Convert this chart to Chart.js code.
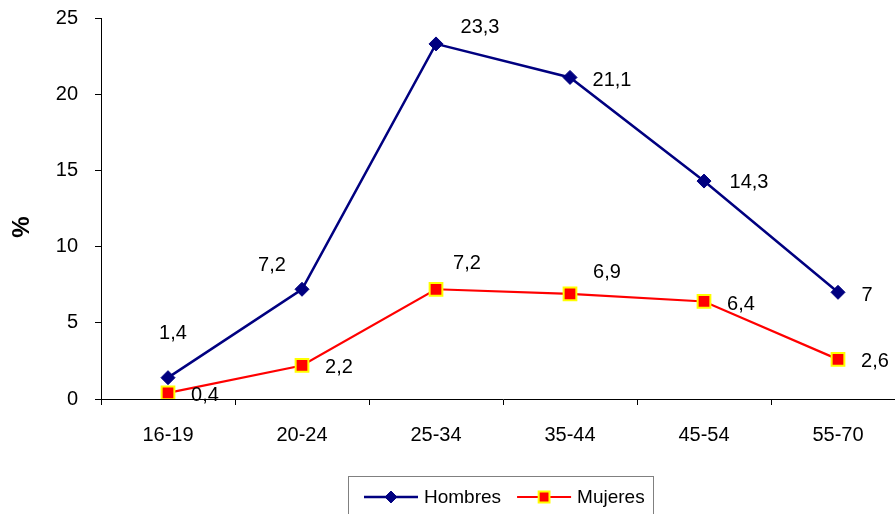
<!DOCTYPE html>
<html lang="es">
<head>
  <meta charset="UTF-8">
  <title>Hombres / Mujeres por edad</title>
  <script src="https://cdn.jsdelivr.net/npm/chart.js"></script>
  <style>
    body {
      margin: 0;
      padding: 0;
      background: white;
      overflow: hidden;
    }
    .chart-container {
      width: 905px;
      height: 514px;
      position: relative;
    }
  </style>
</head>
<body>
  <div class="chart-container"><canvas id="chart"></canvas></div>

  <script>
    const categories = ['16-19', '20-24', '25-34', '35-44', '45-54', '55-70'];
    const hombres = [1.4, 7.2, 23.3, 21.1, 14.3, 7];
    const mujeres = [0.4, 2.2, 7.2, 6.9, 6.4, 2.6];
    const seriesNames = ['Hombres', 'Mujeres'];
    const yTicks = [0, 5, 10, 15, 20, 25];

    // where each value label sits, relative to its point (px)
    const labelOffsets = [
      [[5, -46], [-30, -25], [44, -18], [42, 2], [45, 0], [29, 2]],
      [[37, 1], [37, 1], [31, -27], [37, -23], [37, 2], [37, 1]]
    ];

    const FONT = '"Liberation Sans", Arial, sans-serif';
    const fmt = v => String(v).replace('.', ',');

    const valueLabels = {
      id: 'valueLabels',
      afterDatasetsDraw(chart) {
        const ctx = chart.ctx;
        ctx.save();
        ctx.font = '20px ' + FONT;
        ctx.fillStyle = '#000';
        ctx.textAlign = 'center';
        ctx.textBaseline = 'alphabetic';
        chart.data.datasets.forEach((ds, i) => {
          chart.getDatasetMeta(i).data.forEach((pt, j) => {
            const off = labelOffsets[i][j];
            ctx.fillText(fmt(ds.data[j]), pt.x + off[0], pt.y + off[1] + 7);
          });
        });
        ctx.restore();
      }
    };

    const boxLegend = {
      id: 'boxLegend',
      afterDraw(chart) {
        const ctx = chart.ctx;
        const a = chart.chartArea;
        const cx = (a.left + a.right) / 2;
        const left = cx - 155, top = a.bottom + 77;
        const y = top + 21;
        ctx.save();
        ctx.strokeStyle = '#808080';
        ctx.lineWidth = 1;
        ctx.strokeRect(Math.round(left) + 0.5, top + 0.5, 305, 60);
        ctx.font = '19px ' + FONT;
        ctx.fillStyle = '#000';
        ctx.textBaseline = 'middle';
        let x = left + 16;
        chart.data.datasets.forEach((ds, i) => {
          ctx.strokeStyle = ds.borderColor;
          ctx.lineWidth = ds.borderWidth;
          ctx.beginPath();
          ctx.moveTo(x, y);
          ctx.lineTo(x + 54, y);
          ctx.stroke();
          ctx.fillStyle = ds.pointBackgroundColor;
          ctx.strokeStyle = ds.pointBorderColor;
          ctx.lineWidth = ds.pointBorderWidth;
          Chart.helpers.drawPoint(ctx, {
            pointStyle: ds.pointStyle,
            radius: ds.pointRadius * 0.85,
            borderWidth: ds.pointBorderWidth,
            rotation: 0
          }, x + 27, y);
          ctx.fillStyle = '#000';
          ctx.fillText(ds.label, x + 60, y + 1);
          x += 60 + ctx.measureText(ds.label).width + 16;
        });
        ctx.restore();
      }
    };

    new Chart(document.getElementById('chart'), {
      type: 'line',
      data: {
        labels: categories,
        datasets: [{
          label: seriesNames[0],
          data: hombres,
          borderColor: '#000080',
          borderWidth: 2.5,
          pointStyle: 'rectRot',
          pointRadius: 7,
          pointBackgroundColor: '#000080',
          pointBorderColor: '#000080',
          pointBorderWidth: 1,
          tension: 0
        }, {
          label: seriesNames[1],
          data: mujeres,
          borderColor: '#FF0000',
          borderWidth: 2.2,
          pointStyle: 'rect',
          pointRadius: 9,
          pointBackgroundColor: '#FF0000',
          pointBorderColor: '#FFFF00',
          pointBorderWidth: 2,
          tension: 0
        }]
      },
      options: {
        responsive: true,
        maintainAspectRatio: false,
        animation: false,
        layout: { autoPadding: false, padding: { left: 0, right: 0, top: 18, bottom: 40 } },
        scales: {
          x: {
            offset: true,
            afterFit: s => { s.height = 75; },
            grid: {
              offset: true,
              drawOnChartArea: false,
              tickLength: 6,
              tickColor: '#000'
            },
            border: { color: '#000', width: 1 },
            ticks: {
              color: '#000',
              padding: 18,
              maxRotation: 0,
              font: { family: FONT, size: 20 }
            }
          },
          y: {
            min: 0,
            max: 25,
            afterFit: s => {
              s.width = 101;
              s.paddingTop = 0;
              s.paddingBottom = 0;
            },
            afterBuildTicks: s => { s.ticks = yTicks.map(v => ({ value: v })); },
            grid: {
              drawOnChartArea: false,
              tickLength: 6,
              tickColor: '#000'
            },
            border: { color: '#000', width: 1 },
            ticks: {
              color: '#000',
              padding: 17,
              font: { family: FONT, size: 20 }
            },
            title: { display: false }
          }
        },
        plugins: {
          legend: { display: false },
          tooltip: { enabled: false }
        }
      },
      plugins: [valueLabels, boxLegend, {
        id: 'yTitle',
        afterDraw(chart) {
          const ctx = chart.ctx;
          ctx.save();
          ctx.translate(22, chart.chartArea.top + 209);
          ctx.rotate(-Math.PI / 2);
          ctx.font = 'bold 24px ' + FONT;
          ctx.fillStyle = '#000';
          ctx.textAlign = 'center';
          ctx.textBaseline = 'middle';
          ctx.fillText('%', 0, 0);
          ctx.restore();
        }
      }]
    });
  </script>
</body>
</html>
